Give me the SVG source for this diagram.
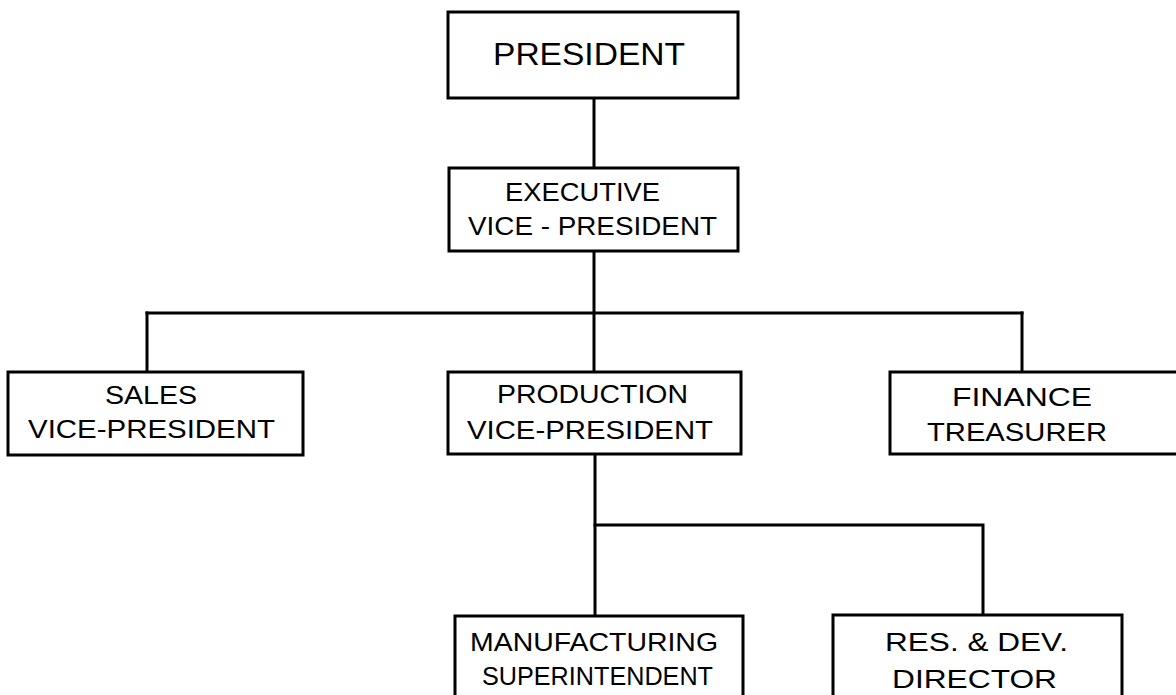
<svg xmlns="http://www.w3.org/2000/svg" width="1176" height="695" viewBox="0 0 1176 695">
<style>
.box{fill:#fff;stroke:#000;stroke-width:3}
.conn{fill:none;stroke:#000;stroke-width:3;stroke-linecap:square}
text{font-family:"Liberation Sans",Arial,sans-serif;fill:#000;font-size:25px}
.big{font-size:32px}
</style>
<rect width="1176" height="695" fill="#fff"/>
<g id="connectors">
<path class="conn" d="M594 98V168"/>
<path class="conn" d="M594 251V372"/>
<path class="conn" d="M147 313H1022"/>
<path class="conn" d="M147 313V372"/>
<path class="conn" d="M1022 313V372"/>
<path class="conn" d="M595 454V616"/>
<path class="conn" d="M595 525H983V615"/>
</g>
<g id="president">
<rect class="box" x="448" y="12" width="290" height="86"/>
<text class="big" x="493" y="65" textLength="192" lengthAdjust="spacingAndGlyphs">PRESIDENT</text>
</g>
<g id="exec-vp">
<rect class="box" x="449" y="168" width="289" height="83"/>
<text x="505" y="201" textLength="155" lengthAdjust="spacingAndGlyphs">EXECUTIVE</text>
<text x="468" y="235" textLength="249" lengthAdjust="spacingAndGlyphs">VICE - PRESIDENT</text>
</g>
<g id="sales-vp">
<rect class="box" x="8" y="372" width="295" height="83"/>
<text x="105" y="404" textLength="92" lengthAdjust="spacingAndGlyphs">SALES</text>
<text x="28" y="438" textLength="247" lengthAdjust="spacingAndGlyphs">VICE-PRESIDENT</text>
</g>
<g id="production-vp">
<rect class="box" x="448" y="372" width="293" height="82"/>
<text x="497" y="403" textLength="191" lengthAdjust="spacingAndGlyphs">PRODUCTION</text>
<text x="467" y="439" textLength="246" lengthAdjust="spacingAndGlyphs">VICE-PRESIDENT</text>
</g>
<g id="finance-treasurer">
<rect class="box" x="890" y="372" width="300" height="82"/>
<text x="952" y="406" textLength="140" lengthAdjust="spacingAndGlyphs">FINANCE</text>
<text x="927" y="441" textLength="180" lengthAdjust="spacingAndGlyphs">TREASURER</text>
</g>
<g id="manufacturing-superintendent">
<rect class="box" x="455" y="616" width="288" height="90"/>
<text x="470" y="651" textLength="248" lengthAdjust="spacingAndGlyphs">MANUFACTURING</text>
<text x="482" y="685" textLength="231" lengthAdjust="spacingAndGlyphs">SUPERINTENDENT</text>
</g>
<g id="res-dev-director">
<rect class="box" x="833" y="615" width="289" height="90"/>
<text x="885" y="651" textLength="183" lengthAdjust="spacingAndGlyphs">RES. &amp; DEV.</text>
<text x="892" y="688" textLength="165" lengthAdjust="spacingAndGlyphs">DIRECTOR</text>
</g>
</svg>
